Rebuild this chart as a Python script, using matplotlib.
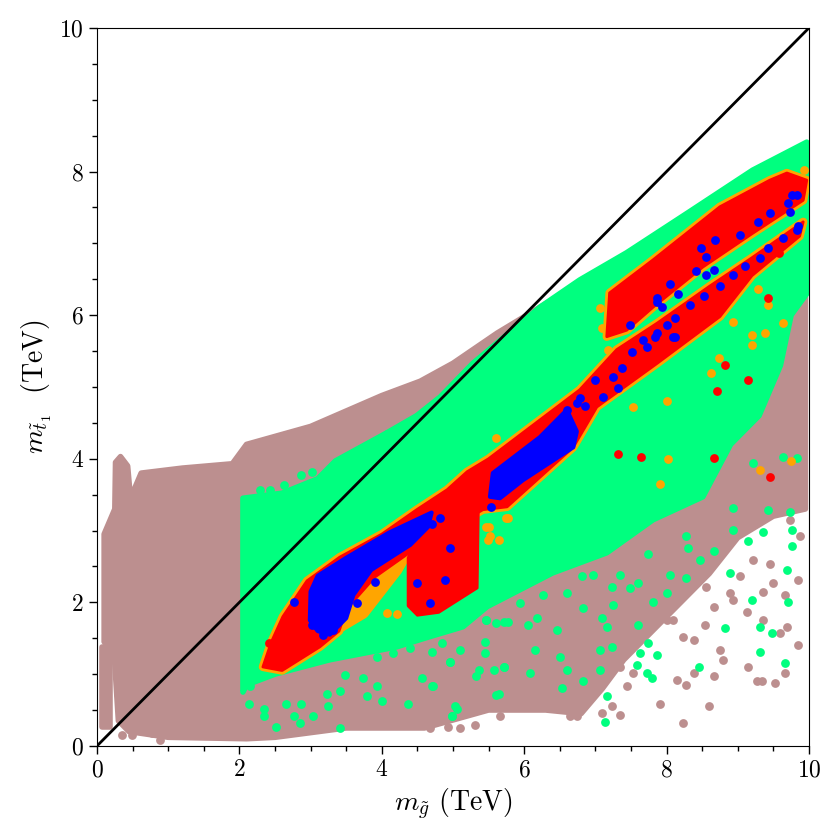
"""Gluino vs stop mass scan: dense regions as filled outlines, sparse points as scatter."""
import matplotlib
matplotlib.use("Agg")
import matplotlib.pyplot as plt
from matplotlib.ticker import MultipleLocator

plt.rcParams["font.family"] = "serif"
plt.rcParams["font.serif"] = ["cmr10"]
plt.rcParams["mathtext.fontset"] = "cm"
plt.rcParams["axes.formatter.use_mathtext"] = True

BROWN = "#bc8f8f"
GREEN = "#00ff7f"
ORANGE = "#ffa500"
RED = "#ff0000"
BLUE = "#0000ff"

# --- dense regions (outlines, TeV) ---
brown_strip_x = [0.07, 0.18, 0.18, 0.07]
brown_strip_y = [0.27, 0.27, 1.38, 1.38]

brown_x = [0.10, 0.10, 0.25, 0.26, 0.33, 0.43, 0.47, 0.62, 1.20, 1.90, 2.10, 3.00, 4.00,
           4.54, 5.00, 5.62, 6.32, 6.80, 9.95, 9.95, 9.50, 9.00, 8.60, 8.20, 7.80, 7.40,
           7.10, 6.80, 6.30, 5.50, 4.60, 3.50, 2.50, 2.10, 1.00, 0.45, 0.30, 0.24]
brown_y = [1.45, 2.95, 3.30, 3.95, 4.03, 3.90, 3.45, 3.80, 3.87, 3.93, 4.20, 4.45, 4.88,
           5.08, 5.33, 5.75, 6.17, 6.32, 7.80, 3.30, 3.20, 2.90, 2.40, 2.00, 1.60, 1.20,
           0.80, 0.45, 0.50, 0.50, 0.25, 0.25, 0.12, 0.10, 0.12, 0.20, 0.35, 1.30]

green_x = [2.05, 2.05, 2.60, 3.10, 3.35, 4.07, 4.49, 4.82, 5.28, 6.22, 6.78, 7.44, 8.29,
           9.21, 9.97, 9.97, 9.75, 9.60, 9.30, 8.90, 8.51, 7.81, 7.16, 6.40, 5.48, 5.14,
           4.60, 4.21, 3.27, 2.50, 2.10]
green_y = [0.75, 3.45, 3.52, 3.72, 3.97, 4.36, 4.60, 4.86, 5.33, 6.11, 6.49, 6.87, 7.42,
           8.02, 8.41, 6.30, 6.00, 5.30, 4.60, 4.20, 3.47, 3.15, 2.69, 2.41, 1.94, 1.66,
           1.50, 1.38, 1.20, 1.00, 0.85]

red_band_x = [2.33, 2.45, 2.61, 2.95, 3.41, 4.00, 4.49, 4.92, 5.20, 5.50, 6.22, 6.78, 7.30,
              7.87, 8.60, 9.20, 9.92, 9.87, 9.20, 8.75, 7.87, 7.02, 6.69, 5.76, 5.42, 4.40,
              3.90, 3.50, 3.40, 3.13, 2.60]
red_band_y = [1.10, 1.45, 1.80, 2.30, 2.63, 2.95, 3.29, 3.57, 3.82, 4.00, 4.54, 4.96, 5.52,
              5.89, 6.40, 6.80, 7.30, 7.10, 6.55, 5.98, 5.33, 4.72, 4.16, 3.33, 3.29, 2.70,
              2.35, 1.90, 1.60, 1.38, 1.05]

red_box_x = [4.37, 4.37, 4.50, 4.80, 5.34, 5.36, 4.60]
red_box_y = [2.62, 1.95, 1.82, 1.86, 2.20, 3.55, 3.10]

red_upper_x = [7.16, 7.20, 7.81, 8.75, 9.45, 9.69, 9.97, 9.92, 9.21, 8.51, 7.81, 7.44]
red_upper_y = [5.70, 6.31, 6.77, 7.51, 7.88, 7.98, 7.88, 7.60, 7.14, 6.67, 6.11, 5.79]

orange_fringe_x = [3.40, 3.74, 4.21, 4.35, 4.00, 3.50]
orange_fringe_y = [1.65, 1.85, 2.45, 2.69, 2.60, 2.00]

blue_a_x = [2.99, 3.00, 3.10, 3.50, 4.10, 4.70, 4.65, 4.40, 3.85, 3.60, 3.50, 3.27, 3.10]
blue_a_y = [1.75, 2.15, 2.37, 2.62, 2.97, 3.25, 3.05, 2.80, 2.45, 2.10, 1.78, 1.55, 1.60]

blue_b_x = [5.52, 5.56, 6.22, 6.60, 6.74, 6.69, 5.98, 5.66]
blue_b_y = [3.47, 3.80, 4.30, 4.68, 4.38, 4.16, 3.70, 3.45]

# --- sparse points ---
brown_pts_x = [8.23, 8.59, 7.91, 8.28, 8.14, 8.38, 8.66, 8.75, 8.80, 9.15, 9.27, 9.34, 9.52,
               9.66, 9.85, 9.59, 9.69, 9.36, 9.13, 8.94, 9.36, 9.50, 9.66, 9.85, 9.87, 9.73,
               9.64, 9.87, 9.59, 9.92, 9.57, 8.66, 8.54, 8.38, 8.09, 7.91, 7.81, 7.63, 7.44,
               7.39, 7.35, 7.53, 7.44, 7.23, 7.09, 7.35, 6.92, 6.74, 6.64, 6.41, 6.22, 5.85,
               5.66, 5.31, 5.10, 4.93, 4.68, 8.19, 8.00, 8.56, 9.03, 8.89, 9.45, 9.22, 9.78,
               9.27, 9.17, 8.23, 7.16, 6.97, 6.74, 0.30, 0.35, 0.49, 0.77, 0.89, 1.40]
brown_pts_y = [0.32, 0.55, 0.59, 0.85, 0.92, 1.01, 0.97, 1.34, 1.20, 1.10, 0.90, 0.90, 0.87,
               1.01, 1.41, 1.57, 1.66, 1.75, 1.87, 2.03, 2.15, 2.27, 2.10, 2.31, 2.92, 3.15,
               3.59, 3.64, 3.70, 4.45, 4.47, 1.94, 1.69, 1.48, 1.75, 1.89, 1.71, 1.57, 1.80,
               1.34, 1.10, 1.01, 0.83, 0.55, 0.46, 0.43, 0.69, 0.41, 0.41, 0.73, 0.55, 0.73,
               0.41, 0.29, 0.25, 0.27, 0.25, 2.13, 1.75, 2.22, 2.36, 2.13, 2.54, 2.59, 3.38,
               3.59, 3.70, 1.52, 2.03, 1.85, 1.71, 0.73, 0.15, 0.15, 0.18, 0.08, 0.15]

green_pts_x = [9.22, 9.64, 9.83, 8.94, 9.43, 9.73, 8.94, 9.36, 9.15, 9.76, 9.69, 8.89, 8.66,
               8.30, 8.28, 8.47, 8.05, 8.28, 8.00, 7.81, 7.60, 7.49, 7.23, 7.35, 7.74, 6.97,
               6.81, 6.60, 6.27, 5.94, 5.71, 5.47, 6.18, 6.46, 6.83, 7.09, 7.25, 7.16, 7.23,
               7.06, 7.63, 7.60, 7.58, 7.74, 7.86, 7.72, 7.79, 7.06, 7.16, 7.13, 6.83, 6.53,
               6.60, 6.50, 6.15, 6.08, 5.64, 5.71, 5.36, 5.45, 5.03, 4.98, 4.72, 4.96, 8.45,
               8.82, 9.31, 9.48, 9.31, 9.66, 9.20, 9.71, 9.76,
               2.15, 2.13, 2.34, 2.34, 2.52, 2.76, 2.85, 3.04, 2.66, 2.87, 3.23, 3.25, 3.41,
               3.41, 3.48, 3.74, 3.79, 3.93, 4.00, 4.37, 4.56, 4.70, 4.98, 5.05, 4.96, 5.33,
               5.57, 5.71, 5.61, 3.93, 4.16, 4.40, 4.70, 4.84, 5.10, 5.45, 5.47, 5.61, 5.78,
               6.06, 2.29, 2.43, 2.62, 2.87, 3.02, 3.32, 3.48, 3.60, 3.69, 3.88, 4.07, 2.13,
               2.13, 2.71, 2.62]
green_pts_y = [3.94, 4.03, 4.01, 3.31, 3.29, 3.26, 3.01, 2.98, 2.85, 2.78, 2.45, 2.41, 2.71,
               2.75, 2.92, 2.59, 2.38, 2.34, 2.13, 2.01, 2.27, 2.20, 2.22, 2.38, 2.68, 2.38,
               2.36, 2.13, 2.10, 1.99, 1.73, 1.75, 1.78, 1.62, 1.92, 1.78, 1.96, 1.66, 1.38,
               1.34, 1.29, 1.69, 1.13, 1.43, 1.27, 1.01, 0.94, 1.06, 0.69, 0.34, 0.90, 0.80,
               1.06, 1.24, 1.34, 1.01, 0.73, 1.10, 1.06, 1.29, 0.55, 0.41, 0.83, 1.17, 1.10,
               1.64, 1.66, 1.57, 1.31, 1.16, 2.03, 2.01, 3.01,
               0.83, 0.59, 0.52, 0.41, 0.27, 0.41, 0.32, 0.41, 0.59, 0.59, 0.73, 0.55, 0.76,
               0.25, 0.99, 0.94, 0.69, 0.83, 0.62, 0.59, 0.94, 0.83, 0.41, 0.52, 1.17, 0.97,
               1.06, 1.10, 0.71, 1.24, 1.29, 1.36, 1.31, 1.43, 1.34, 1.45, 1.75, 1.71, 1.73,
               1.69, 3.57, 3.57, 3.64, 3.77, 3.82, 3.84, 4.01, 4.08, 4.12, 4.22, 4.35, 3.31,
               3.01, 3.38, 3.10]

orange_pts_x = [8.02, 7.91, 9.31, 9.75, 5.60, 5.78, 5.50, 5.52, 5.65, 7.06, 7.09, 7.18, 7.53,
                8.00, 8.63, 8.73, 8.94, 9.20, 9.20, 9.38, 9.63, 9.29, 9.43, 9.93, 8.94, 4.07,
                4.22, 5.47, 5.75, 5.49]
orange_pts_y = [3.99, 3.65, 3.84, 3.97, 4.29, 3.17, 3.05, 2.92, 2.87, 6.10, 5.82, 5.52, 4.72,
                4.80, 5.20, 5.40, 5.90, 5.72, 5.59, 5.75, 5.89, 6.37, 6.14, 8.02, 7.42, 1.85,
                1.84, 3.05, 3.17, 2.87]

red_pts_x = [7.32, 7.64, 8.67, 9.45, 9.43, 9.58, 8.82, 9.15, 8.71, 2.42]
red_pts_y = [4.06, 4.02, 4.01, 3.74, 6.24, 6.86, 5.31, 5.10, 4.95, 1.44]

blue_pts_x = [6.60, 6.74, 6.99, 7.25, 7.37, 7.32, 7.51, 7.72, 7.84, 8.00, 8.12, 8.12, 8.33,
              8.52, 8.75, 8.94, 9.10, 9.31, 9.43, 9.64, 9.83, 9.85, 7.49, 7.93, 7.86, 8.05,
              8.16, 8.42, 8.56, 8.66, 8.56, 8.68, 8.49, 9.03, 9.29, 9.45, 9.71, 9.76, 9.83,
              9.73, 7.11, 6.85, 6.78, 7.67, 7.86, 8.09, 7.86, 4.96, 4.89, 4.49, 4.68, 4.82,
              4.70, 2.76, 3.90, 3.65, 3.32, 3.18, 3.02, 5.54]
blue_pts_y = [4.68, 4.77, 5.10, 5.14, 5.26, 4.98, 5.49, 5.56, 5.70, 5.86, 5.96, 5.70, 6.14,
              6.26, 6.40, 6.56, 6.68, 6.79, 6.93, 7.07, 7.19, 7.24, 5.86, 6.12, 6.19, 6.44,
              6.30, 6.61, 6.56, 6.63, 6.81, 7.05, 6.93, 7.12, 7.30, 7.42, 7.56, 7.67, 7.67,
              7.44, 4.86, 4.73, 4.84, 5.66, 5.75, 5.69, 6.24, 2.75, 2.31, 2.27, 1.99, 3.17,
              3.09, 2.01, 2.29, 1.99, 1.62, 1.55, 1.69, 3.33]

MS = 40

fig = plt.figure(figsize=(8.4, 8.4), dpi=100)
ax = fig.add_axes([0.1155, 0.112, 0.8475, 0.8547])

# brown layer
for xs, ys in [(brown_strip_x, brown_strip_y), (brown_x, brown_y)]:
    ax.fill(xs, ys, color=BROWN, lw=4, joinstyle="round", zorder=1)
ax.scatter(brown_pts_x, brown_pts_y, s=MS, color=BROWN, linewidths=0, zorder=1)

# green layer
ax.fill(green_x, green_y, color=GREEN, lw=4, joinstyle="round", zorder=2)
ax.scatter(green_pts_x, green_pts_y, s=MS, color=GREEN, linewidths=0, zorder=2)

# orange fringe under the red bands
for xs, ys in [(red_band_x, red_band_y), (red_upper_x, red_upper_y)]:
    ax.fill(xs, ys, facecolor=ORANGE, edgecolor=ORANGE, lw=6, joinstyle="round", zorder=3)
ax.fill(orange_fringe_x, orange_fringe_y, color=ORANGE, lw=8, joinstyle="round", zorder=3)
ax.scatter(orange_pts_x, orange_pts_y, s=MS, color=ORANGE, linewidths=0, zorder=3)

# red layer
for xs, ys in [(red_band_x, red_band_y), (red_box_x, red_box_y), (red_upper_x, red_upper_y)]:
    ax.fill(xs, ys, color=RED, lw=2, joinstyle="round", zorder=4)
ax.scatter(red_pts_x, red_pts_y, s=MS, color=RED, linewidths=0, zorder=4)

# blue layer
for xs, ys in [(blue_a_x, blue_a_y), (blue_b_x, blue_b_y)]:
    ax.fill(xs, ys, color=BLUE, lw=3, joinstyle="round", zorder=5)
ax.scatter(blue_pts_x, blue_pts_y, s=MS, color=BLUE, linewidths=0, zorder=5)

ax.plot([0, 10], [0, 10], color="black", lw=2, zorder=6)

ax.set_xlim(0, 10)
ax.set_ylim(0, 10)
ax.xaxis.set_major_locator(MultipleLocator(2))
ax.yaxis.set_major_locator(MultipleLocator(2))
ax.xaxis.set_minor_locator(MultipleLocator(0.5))
ax.yaxis.set_minor_locator(MultipleLocator(0.5))
ax.tick_params(which="major", direction="out", length=6, width=1, labelsize=17)
ax.tick_params(which="minor", direction="out", length=3.5, width=1)
ax.set_xlabel(r"$m_{\tilde{g}}$ (TeV)", fontsize=20)
ax.set_ylabel(r"$m_{\tilde{t}_1}$  (TeV)", fontsize=20)

fig.savefig("out.png", dpi=100)
